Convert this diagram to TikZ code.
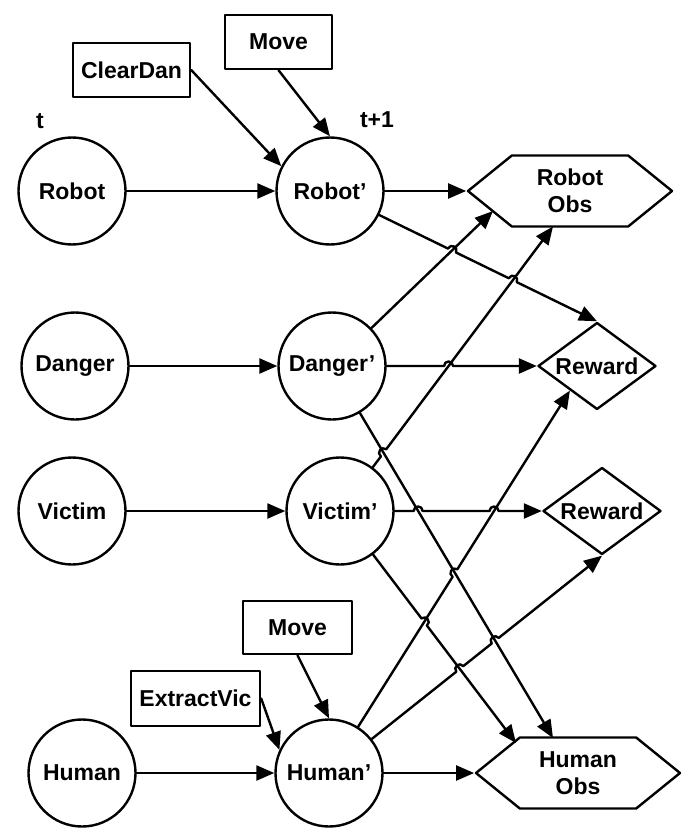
\documentclass[tikz,border=0pt]{standalone}
\usepackage{fontspec}
\setmainfont{Liberation Sans}
\usetikzlibrary{arrows.meta}
\usetikzlibrary{shapes.geometric,shapes.symbols}
\usetikzlibrary{calc,intersections}

\begin{document}
\begin{tikzpicture}
    [line cap=round,line join=round,x=1pt,y=-1pt,line width=2.4pt,
     every node/.style={font=\fontsize{23}{27}\selectfont\bfseries},
     var/.style={draw,circle,minimum size=107pt,inner sep=0pt},
     act/.style={draw,rectangle,inner sep=0pt},
     obs/.style={draw,signal,signal to=east and west,signal pointer angle=78,
                 minimum width=204pt,minimum height=71pt,inner sep=0pt,align=center},
     rew/.style={draw,diamond,aspect=1.35,minimum width=118pt,minimum height=87pt,inner sep=0pt},
     arr/.style={-{Triangle[length=18pt,width=15pt]}},
     hop/.style={bend left=90,looseness=1.7}]
\useasboundingbox (0,0) rectangle (697,837);
%time slices
 \node (tnow) at (40,121) {t};
 \node (tnext) at (377,120) {t+1};
%variables at t
 \node[var] (robot) at (72,191) {Robot};
 \node[var] (danger) at (75,366) {Danger};
 \node[var] (victim) at (72,511) {Victim};
 \node[var] (human) at (82,773) {Human};
%variables at t+1
 \node[var] (robotp) at (330,191) {Robot’};
 \node[var] (dangerp) at (332,366) {Danger’};
 \node[var] (victimp) at (340,511) {Victim’};
 \node[var] (humanp) at (329,773) {Human’};
%actions
 \node[act,minimum width=117pt,minimum height=54pt] (cleardan) at (131.5,70) {ClearDan};
 \node[act,minimum width=107pt,minimum height=54pt] (moverobot) at (278.5,42) {Move};
 \node[act,minimum width=109pt,minimum height=53pt] (movehuman) at (297.5,627.5) {Move};
 \node[act,minimum width=129pt,minimum height=55pt] (extractvic) at (195.5,698.5) {ExtractVic};
%observations and rewards
 \node[obs] (robotobs) at (570,191) {Robot\\Obs};
 \node[obs] (humanobs) at (578,773) {Human\\Obs};
 \node[rew] (rewdanger) at (597,366) {Reward};
 \node[rew] (rewvictim) at (602,511) {Reward};
%free ends on the borders
 \coordinate (robotobs-a) at ([shift={(-77,20)}]robotobs.center);
 \coordinate (robotobs-b) at ([shift={(-17,35.5)}]robotobs.center);
 \coordinate (humanobs-a) at ([shift={(-25,-35)}]humanobs.center);
 \coordinate (humanobs-b) at ([shift={(-62,-30)}]humanobs.center);
 \coordinate (rewdanger-a) at ($(rewdanger.west)!0.55!(rewdanger.south)$);

%t -> t+1
 \draw[arr] (robot) -- (robotp);
 \draw[arr] (danger) -- (dangerp);
 \draw[arr] (victim) -- (victimp);
 \draw[arr] (human) -- (humanp);
%actions
 \draw[arr] (cleardan.east) -- (robotp.153);
 \draw[arr] (moverobot.south) -- (robotp.north);
 \draw[arr] (movehuman.south) -- (humanp.north);
 \draw[arr] (extractvic.east) -- (humanp.155);
%straight links
 \draw[arr] (robotp) -- (robotobs.west);
 \draw[arr] (dangerp) -- (robotobs-a);
 \draw[arr] (dangerp) -- (humanobs-a);
 \draw[arr] (humanp) -- (humanobs.west);

%crossings
 \path[name path=rp-rew] (robotp) -- (rewdanger.north);
 \path[name path=dp-robs] (dangerp) -- (robotobs-a);
 \path[name path=dp-rew] (dangerp) -- (rewdanger.west);
 \path[name path=dp-hobs] (dangerp) -- (humanobs-a);
 \path[name path=vp-robs] (victimp) -- (robotobs-b);
 \path[name path=vp-rew] (victimp) -- (rewvictim.west);
 \path[name path=vp-hobs] (victimp) -- (humanobs-b);
 \path[name path=hp-rewd] (humanp) -- (rewdanger-a);
 \path[name path=hp-rewv] (humanp) -- (rewvictim.south);
 \path[name intersections={of=rp-rew and dp-robs,by=j1}];
 \path[name intersections={of=rp-rew and vp-robs,by=j2}];
 \path[name intersections={of=dp-rew and vp-robs,by=j3}];
 \path[name intersections={of=vp-robs and dp-hobs,by=j4}];
 \path[name intersections={of=vp-rew and dp-hobs,by=j5}];
 \path[name intersections={of=vp-rew and hp-rewd,by=j6}];
 \path[name intersections={of=vp-hobs and hp-rewd,by=j7}];
 \path[name intersections={of=hp-rewd and dp-hobs,by=j8}];
 \path[name intersections={of=hp-rewv and vp-hobs,by=j9}];
 \path[name intersections={of=hp-rewv and dp-hobs,by=j10}];

%links with line jumps
 \draw[arr] (robotp) -- ($(j1)!4.5pt!(robotp)$) to[hop] ($(j1)!4.5pt!(rewdanger.north)$)
   -- ($(j2)!4.5pt!(robotp)$) to[hop] ($(j2)!4.5pt!(rewdanger.north)$) -- (rewdanger.north);
 \draw[arr] (dangerp) -- ($(j3)!4.5pt!(dangerp)$) to[hop] ($(j3)!4.5pt!(rewdanger.west)$) -- (rewdanger.west);
 \draw[arr] (victimp) -- ($(j4)!4.5pt!(victimp)$) to[hop] ($(j4)!4.5pt!(robotobs-b)$) -- (robotobs-b);
 \draw[arr] (victimp) -- ($(j5)!4.5pt!(victimp)$) to[hop] ($(j5)!4.5pt!(rewvictim.west)$)
   -- ($(j6)!4.5pt!(victimp)$) to[hop] ($(j6)!4.5pt!(rewvictim.west)$) -- (rewvictim.west);
 \draw[arr] (victimp) -- ($(j7)!4.5pt!(victimp)$) to[hop] ($(j7)!4.5pt!(humanobs-b)$) -- (humanobs-b);
 \draw[arr] (humanp) -- ($(j8)!4.5pt!(humanp)$) to[hop] ($(j8)!4.5pt!(rewdanger-a)$) -- (rewdanger-a);
 \draw[arr] (humanp) -- ($(j9)!4.5pt!(humanp)$) to[hop] ($(j9)!4.5pt!(rewvictim.south)$)
   -- ($(j10)!4.5pt!(humanp)$) to[hop] ($(j10)!4.5pt!(rewvictim.south)$) -- (rewvictim.south);
\end{tikzpicture}
\end{document}
